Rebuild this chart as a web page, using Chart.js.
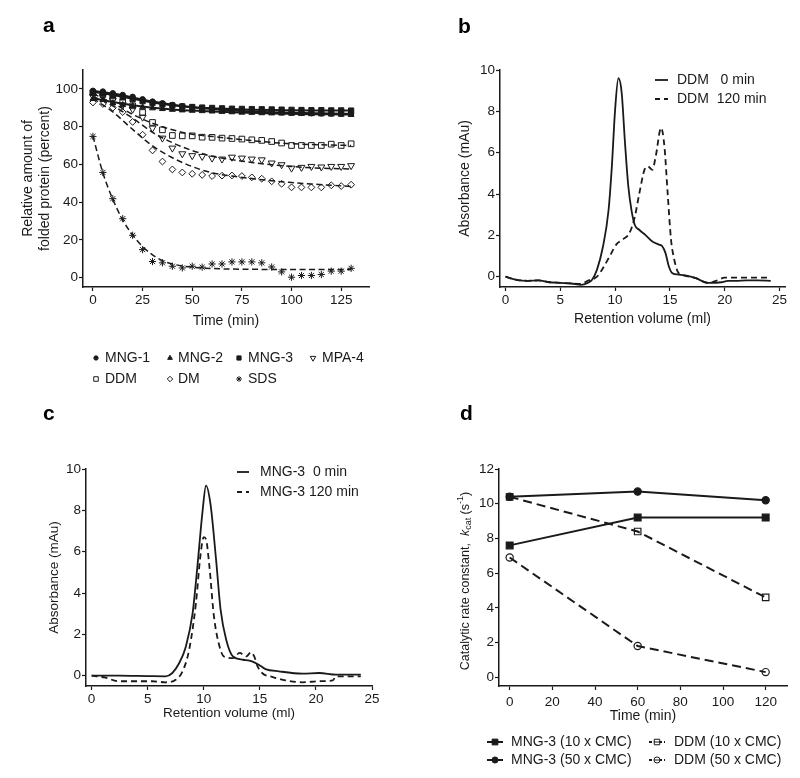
<!DOCTYPE html>
<html><head><meta charset="utf-8">
<script src="https://cdn.jsdelivr.net/npm/chart.js@4.4.1/dist/chart.umd.min.js"></script>
<style>
html,body{margin:0;padding:0;background:#fff;}
#wrap{position:relative;width:800px;height:778px;overflow:hidden;background:#fff;}
#wrap canvas{position:absolute;}
</style></head><body><div id="wrap">
<canvas id="ca" width="400" height="390" style="left:0px;top:0px"></canvas>
<canvas id="cb" width="400" height="390" style="left:400px;top:0px"></canvas>
<canvas id="cc" width="400" height="388" style="left:0px;top:390px"></canvas>
<canvas id="cd" width="400" height="388" style="left:400px;top:390px"></canvas>
</div>
<script>
// ---------- Panel a data ----------
const timeA = [0,5,10,15,20,25,30,35,40,45,50,55,60,65,70,75,80,85,90,95,100,105,110,115,120,125,130];
const mng1 = [99,98.6,97.7,96.8,95.8,94.5,93.3,92.4,91.5,90.8,90.3,89.8,89.4,89,88.7,88.4,88.2,88,87.8,87.6,87.4,87.3,87.1,87,86.9,86.8,86.8];
const mng2 = [94.7,94.2,92.4,91.5,91,90.3,89.8,89.4,89,88.7,88.5,88.3,88.1,87.9,87.7,87.5,87.4,87.2,87.1,87,86.9,86.8,86.7,86.6,86.5,86.4,86.3];
const mng3 = [98,97.5,96.5,95.5,94.5,93.5,92.5,91.8,91.2,90.7,90.4,90.1,89.9,89.7,89.5,89.4,89.3,89.2,89.1,89,88.9,88.8,88.7,88.7,88.6,88.6,88.5];
const mpa4 = [96,96,94,91.5,89.2,85,79.2,73.9,68.6,65.6,64.6,64.2,63.3,62.8,63.8,63.3,62.8,62.4,60.7,59.8,58,58.4,58.9,58.6,58.9,58.9,59.3];
const ddm  = [98,97,95.5,93,91,87.5,82.2,78.3,75.3,75.1,75.1,74.4,74.3,73.9,73.7,73.4,73,72.7,72.1,71.3,70,70,70,70,70.7,70,70.9];
const dm   = [92.8,92,90,87.7,82.5,75.7,67.4,61.5,57.3,55.7,55,54.4,53.8,54,54.1,53.8,53.1,52.4,51,49.7,47.8,47.8,47.8,47.8,48.9,48.5,49.2];
const sds  = [74.8,55.7,41.8,31.2,22.4,14.8,8.5,7.8,6,5.1,6,5.5,7.2,7.2,8.3,8.3,8.3,7.8,5.6,3,0.2,1.1,1.1,1.6,3.4,3.4,4.9];
const fitTimeA = [0,10,20,30,40,50,60,70,80,90,100,110,120,130];
const fitMng1 = [99,97.5,95.5,93.3,91.6,90.3,89.3,88.6,88,87.6,87.3,87.1,86.9,86.8];
const fitMng2 = [95,93,91.3,90,89.1,88.5,88,87.6,87.3,87,86.8,86.6,86.5,86.4];
const fitMng3 = [98.5,96.8,94.8,92.8,91.3,90.3,89.7,89.3,89,88.8,88.7,88.6,88.5,88.5];
const fitDdm  = [97.5,92.5,86.5,81.8,78.3,76,74.8,73.6,72.6,71.6,70.9,70.5,70.2,70];
const fitMpa4 = [96,91,84.5,77,71.5,67.3,64.3,62.5,61,59.8,58.9,58.2,57.8,57.5];
const fitDm   = [95,87.8,78.5,69.8,63.5,58.8,55.5,53.8,52.5,51.3,50.4,49.6,48.9,48.3];
const fitTimeSds = [0,5,10,15,20,25,30,35,40,50,60,70,80,90,100,110,120,130];
const fitSds  = [75,55.5,41.5,30.5,22.5,16.5,12,9,7.2,5.5,4.8,4.5,4.4,4.3,4.3,4.3,4.3,4.3];
const ticksAX = [0,25,50,75,100,125];
const ticksAY = [0,20,40,60,80,100];
const namesA = ['MNG-1','MNG-2','MNG-3','MPA-4','DDM','DM','SDS'];

// ---------- Panel b data ----------
const volB0  = [0,1,2,3,4,5,6,6.9,7.5,7.9,8.35,8.9,9.4,9.7,10.0,10.3,10.6,10.9,11.2,11.5,11.8,12.2,12.8,13.4,14.0,14.3,14.6,14.9,15.2,15.8,16.5,17.3,18.5,19.7,20.3,21,22,23,24.2];
const absB0  = [0,-0.15,-0.2,-0.18,-0.27,-0.3,-0.33,-0.4,-0.3,-0.15,0.34,1.47,3.2,5.3,8.07,9.6,8.9,6.5,4.4,3.2,2.5,2.27,2.0,1.7,1.55,1.47,1.14,0.5,0.18,0.1,0.05,-0.06,-0.3,-0.27,-0.2,-0.2,-0.18,-0.18,-0.2];
const volB120 = [0,1,2,3,4,5,6,6.9,7.5,8.35,8.9,9.5,10.1,10.7,11.3,11.8,12.2,12.7,13.0,13.4,13.7,14.2,14.5,14.8,15.1,15.4,15.7,16.1,17.3,18.5,19.2,20,21,22,23,24.2];
const absB120 = [0,-0.15,-0.2,-0.18,-0.27,-0.3,-0.33,-0.35,-0.2,0,0.42,0.98,1.55,1.8,2.1,2.9,4.0,5.2,5.33,5.17,5.8,7.2,6.3,4.0,1.8,0.82,0.26,0.1,-0.06,-0.3,-0.2,-0.05,-0.05,-0.05,-0.05,-0.05];
const ticksBX = [0,5,10,15,20,25];
const ticksBY = [0,2,4,6,8,10];
const namesB = ['DDM   0 min','DDM  120 min'];

// ---------- Panel c data ----------
const volC0  = [0,2.4,5,6.6,7.2,7.8,8.4,9.0,9.4,9.9,10.2,10.6,11.1,11.5,12.0,12.6,13.5,14.3,14.9,15.5,16.7,18.8,20.3,21.8,24];
const absC0  = [0,0,-0.02,-0.03,0.13,0.6,1.4,3.0,5.1,8.0,9.2,8.3,5.6,3.2,1.74,0.93,0.77,0.69,0.53,0.32,0.21,0.1,0.13,0.05,0.05];
const volC120 = [0,1.25,2.4,5.4,6.6,7.5,8.1,8.7,9.3,9.7,10.0,10.2,10.5,10.9,11.4,11.8,12.6,13.2,13.8,14.2,14.5,14.8,15.2,16.1,17.3,18.8,20.3,21.5,21.8,24];
const absC120 = [0,-0.1,-0.27,-0.27,-0.32,-0.2,0.2,1.26,3.5,5.8,6.7,6.6,5.3,2.9,1.42,0.93,0.85,1.1,0.93,1.13,0.93,0.45,0.13,-0.06,-0.23,-0.32,-0.27,-0.23,-0.03,-0.03];
const ticksCX = [0,5,10,15,20,25];
const ticksCY = [0,2,4,6,8,10];
const namesC = ['MNG-3  0 min','MNG-3 120 min'];

// ---------- Panel d data ----------
const timeD = [0,60,120];
const mng3x10 = [7.6,9.2,9.2];
const mng3x50 = [10.4,10.7,10.2];
const ddmx10 = [10.4,8.4,4.6];
const ddmx50 = [6.9,1.8,0.3];
const ticksDX = [0,20,40,60,80,100,120];
const ticksDY = [0,2,4,6,8,10,12];
const namesD = ['MNG-3 (10 x CMC)','MNG-3 (50 x CMC)','DDM (10 x CMC)','DDM (50 x CMC)'];

// ---------- helpers ----------
const FONT = "'Liberation Sans', Arial, Helvetica, sans-serif";
const INK = '#1a1a1a';
const pts = (xs, ys) => xs.map((x, i) => ({x: x, y: ys[i]}));

function axis(o) {
  return {
    type: 'linear', min: o.min, max: o.max,
    border: {display: true, color: INK, width: 1.5},
    grid: {display: true, drawOnChartArea: false, drawTicks: true, tickLength: 4, tickColor: INK, tickWidth: 1.2},
    ticks: {color: INK, font: {family: FONT, size: 13.5}, padding: o.tickPad, maxRotation: 0, autoSkip: false},
    title: o.title ? {display: true, text: o.title, color: INK, font: {family: FONT, size: o.titleSize || 14}, padding: o.titlePad} : {display: false},
    afterBuildTicks: s => { s.ticks = o.ticks.map(v => ({value: v})); },
    afterFit: s => { if (o.w != null) s.width = o.w; if (o.h != null) s.height = o.h; }
  };
}

function drawMarker(ctx, style, x, y, r, filled, rot) {
  ctx.save();
  ctx.translate(x, y);
  if (rot) ctx.rotate(rot * Math.PI / 180);
  ctx.beginPath();
  if (style === 'circle') ctx.arc(0, 0, r, 0, Math.PI * 2);
  else if (style === 'rect') { const s = r * Math.SQRT1_2; ctx.rect(-s, -s, 2 * s, 2 * s); }
  else if (style === 'triangle') { ctx.moveTo(0, -r); ctx.lineTo(r * 0.866, r * 0.5); ctx.lineTo(-r * 0.866, r * 0.5); ctx.closePath(); }
  else if (style === 'rectRot') { ctx.moveTo(0, -r); ctx.lineTo(r, 0); ctx.lineTo(0, r); ctx.lineTo(-r, 0); ctx.closePath(); }
  else if (style === 'star') {
    for (let k = 0; k < 4; k++) { const a = k * Math.PI / 4; ctx.moveTo(-r * Math.cos(a), -r * Math.sin(a)); ctx.lineTo(r * Math.cos(a), r * Math.sin(a)); }
  }
  ctx.lineWidth = 1; ctx.strokeStyle = INK;
  if (filled === true && style !== 'star') { ctx.fillStyle = INK; ctx.fill(); }
  else if (filled === 'white') { ctx.fillStyle = '#fff'; ctx.fill(); }
  ctx.stroke();
  ctx.restore();
}

function letter(ch, x, y) {
  return {id: 'letter_' + ch, afterDraw(chart) {
    const ctx = chart.ctx; ctx.save();
    ctx.font = 'bold 21px ' + FONT; ctx.fillStyle = '#000'; ctx.textBaseline = 'alphabetic'; ctx.textAlign = 'left';
    ctx.fillText(ch, x, y); ctx.restore();
  }};
}

Chart.defaults.font.family = FONT;
Chart.defaults.color = INK;

// ---------- Panel a ----------
const markA = [
  {data: mng1, style: 'circle', r: 2.7, fill: true, rot: 0},
  {data: mng2, style: 'triangle', r: 3.4, fill: true, rot: 0},
  {data: mng3, style: 'rect', r: 3.7, fill: true, rot: 0},
  {data: mpa4, style: 'triangle', r: 4, fill: false, rot: 180},
  {data: ddm, style: 'rect', r: 4, fill: false, rot: 0},
  {data: dm, style: 'rectRot', r: 3.4, fill: false, rot: 0},
  {data: sds, style: 'star', r: 3.6, fill: false, rot: 0}
];
const dsA = [];
markA.forEach((m, i) => dsA.push({
  type: 'scatter', label: namesA[i], data: pts(timeA, m.data), showLine: false, order: 1,
  pointStyle: m.style, pointRadius: m.r, pointRotation: m.rot, pointBorderWidth: 1,
  pointBorderColor: INK, pointBackgroundColor: m.fill ? INK : 'rgba(0,0,0,0)'
}));
[[fitMng1, false], [fitMng2, false], [fitMng3, false], [fitDdm, true], [fitMpa4, true], [fitDm, true]].forEach(([f, dashed]) => dsA.push({
  type: 'line', label: '_fit', data: pts(fitTimeA, f), order: 2, pointRadius: 0, borderColor: INK,
  borderWidth: dashed ? 1.5 : 2, borderDash: dashed ? [6, 3.5] : [], cubicInterpolationMode: 'monotone', fill: false
}));
dsA.push({type: 'line', label: '_fit', data: pts(fitTimeSds, fitSds), order: 2, pointRadius: 0, borderColor: INK,
  borderWidth: 1.5, borderDash: [6, 3.5], cubicInterpolationMode: 'monotone', fill: false});

const legendA = {id: 'legendA', afterDraw(chart) {
  const ctx = chart.ctx; ctx.save();
  const cols = [[96, 105], [170, 178], [239, 248], [313, 322]];
  const rows = [358, 379];
  markA.forEach((m, i) => {
    const c = cols[i % 4], y = rows[Math.floor(i / 4)];
    drawMarker(ctx, m.style, c[0], y, m.r * 0.8, m.fill, m.rot);
    ctx.font = '14px ' + FONT; ctx.fillStyle = INK; ctx.textBaseline = 'middle'; ctx.textAlign = 'left';
    ctx.fillText(namesA[i], c[1], y + 0.5);
  });
  ctx.restore();
}};

new Chart(document.getElementById('ca'), {
  type: 'scatter',
  data: {datasets: dsA},
  options: {
    responsive: false, animation: false, events: [],
    layout: {padding: {left: 0, top: 70, right: 31, bottom: 60}, autoPadding: false},
    plugins: {legend: {display: false}, tooltip: {enabled: false}},
    scales: {
      x: axis({min: -5, max: 139, ticks: ticksAX, tickPad: 1, h: 43, title: 'Time (min)', titlePad: {top: 0, bottom: 0}}),
      y: axis({min: -5, max: 110, ticks: ticksAY, tickPad: 1, w: 83, title: ['Relative amount of', 'folded protein (percent)'], titlePad: {top: 19.5, bottom: 0}})
    }
  },
  plugins: [legendA, letter('a', 43, 32)]
});

// ---------- Panel b & c (chromatograms) ----------
function lineLegend(id, names, x0, x1, xt, rows) {
  return {id: id, afterDraw(chart) {
    const ctx = chart.ctx; ctx.save();
    ctx.strokeStyle = INK; ctx.lineWidth = 1.8;
    rows.forEach((y, i) => {
      ctx.setLineDash(i === 1 ? [5, 4] : []);
      ctx.beginPath(); ctx.moveTo(x0, y); ctx.lineTo(x1, y); ctx.stroke();
      ctx.setLineDash([]);
      ctx.font = '14px ' + FONT; ctx.fillStyle = INK; ctx.textBaseline = 'middle'; ctx.textAlign = 'left';
      ctx.fillText(names[i], xt, y + 0.5);
    });
    ctx.restore();
  }};
}

function chromChart(id, cfg) {
  return new Chart(document.getElementById(id), {
    type: 'line',
    data: {datasets: [
      {label: cfg.names[0], data: pts(cfg.v0, cfg.a0), borderColor: INK, borderWidth: 1.8, pointRadius: 0, cubicInterpolationMode: 'monotone', fill: false},
      {label: cfg.names[1], data: pts(cfg.v1, cfg.a1), borderColor: INK, borderWidth: 1.8, borderDash: [6, 4], pointRadius: 0, cubicInterpolationMode: 'monotone', fill: false}
    ]},
    options: {
      responsive: false, animation: false, events: [],
      layout: {padding: cfg.pad, autoPadding: false},
      plugins: {legend: {display: false}, tooltip: {enabled: false}},
      scales: {
        x: axis({min: -0.5, max: cfg.xmax, ticks: cfg.tx, tickPad: 1, h: cfg.h, title: 'Retention volume (ml)', titleSize: cfg.ts, titlePad: {top: 0, bottom: 0}}),
        y: axis({min: -0.5, max: 10, ticks: cfg.ty, tickPad: 1, w: cfg.w, title: 'Absorbance (mAu)', titleSize: cfg.ts, titlePad: {top: cfg.ytp, bottom: 0}})
      }
    },
    plugins: cfg.plugins
  });
}

chromChart('cb', {names: namesB, v0: volB0, a0: absB0, v1: volB120, a1: absB120, tx: ticksBX, ty: ticksBY,
  xmax: 25.5, pad: {left: 0, top: 70, right: 15, bottom: 62}, h: 41, w: 100, ts: 14, ytp: 56.5,
  plugins: [lineLegend('legB', namesB, 255, 268, 277, [80, 99]), letter('b', 58, 33)]});

chromChart('cc', {names: namesC, v0: volC0, a0: absC0, v1: volC120, a1: absC120, tx: ticksCX, ty: ticksCY,
  xmax: 25, pad: {left: 0, top: 79, right: 28, bottom: 57}, h: 35, w: 86, ts: 13.5, ytp: 46,
  plugins: [lineLegend('legC', namesC, 237, 249, 260, [82, 102]), letter('c', 43, 30)]});

// ---------- Panel d ----------
const markD = [
  {data: mng3x50, style: 'circle', r: 3.6, fill: true, dashed: false},
  {data: mng3x10, style: 'rect', r: 4.8, fill: true, dashed: false},
  {data: ddmx10, style: 'rect', r: 4.6, fill: false, dashed: true},
  {data: ddmx50, style: 'circle', r: 3.6, fill: false, dashed: true}
];
const labelD = [namesD[1], namesD[0], namesD[2], namesD[3]];
const dsD = markD.map((m, i) => ({
  type: 'line', label: labelD[i], data: pts(timeD, m.data), borderColor: INK, borderWidth: 2,
  borderDash: m.dashed ? [9, 5] : [], tension: 0, fill: false,
  pointStyle: m.style, pointRadius: m.r, pointBorderWidth: 1.2, pointBorderColor: INK,
  pointBackgroundColor: m.fill ? INK : 'rgba(255,255,255,0)'
}));

const legendD = {id: 'legendD', afterDraw(chart) {
  const ctx = chart.ctx; ctx.save();
  const items = [
    {m: markD[1], x: 95, xt: 111, y: 352, name: namesD[0]},
    {m: markD[0], x: 95, xt: 111, y: 370, name: namesD[1]},
    {m: markD[2], x: 257, xt: 274, y: 352, name: namesD[2]},
    {m: markD[3], x: 257, xt: 274, y: 370, name: namesD[3]}
  ];
  items.forEach(it => {
    ctx.strokeStyle = INK; ctx.lineWidth = 2;
    ctx.setLineDash(it.m.dashed ? [3, 2] : []);
    ctx.beginPath(); ctx.moveTo(it.x - 8, it.y); ctx.lineTo(it.x + 8, it.y); ctx.stroke();
    ctx.setLineDash([]);
    drawMarker(ctx, it.m.style, it.x, it.y, it.m.r * 0.85, it.m.fill ? true : 'white', 0);
    if (it.m.dashed) { ctx.beginPath(); ctx.moveTo(it.x - 3, it.y); ctx.lineTo(it.x + 3, it.y); ctx.lineWidth = 1; ctx.stroke(); }
    ctx.font = '14px ' + FONT; ctx.fillStyle = INK; ctx.textBaseline = 'middle'; ctx.textAlign = 'left';
    ctx.fillText(it.name, it.xt, it.y + 0.5);
  });
  ctx.restore();
}};

const yTitleD = {id: 'yTitleD', afterDraw(chart) {
  const ctx = chart.ctx; ctx.save();
  ctx.translate(66, 191); ctx.rotate(-Math.PI / 2);
  const big = '12.5px ' + FONT, small = '9px ' + FONT;
  const parts = [
    {t: 'Catalytic rate constant,  ', f: big, dy: 0},
    {t: 'k', f: 'italic ' + big, dy: 0},
    {t: 'cat', f: small, dy: 3},
    {t: ' (s', f: big, dy: 0},
    {t: '-1', f: small, dy: -5},
    {t: ')', f: big, dy: 0}
  ];
  let total = 0;
  parts.forEach(p => { ctx.font = p.f; p.w = ctx.measureText(p.t).width; total += p.w; });
  let x = -total / 2;
  ctx.fillStyle = INK; ctx.textBaseline = 'middle'; ctx.textAlign = 'left';
  parts.forEach(p => { ctx.font = p.f; ctx.fillText(p.t, x, p.dy); x += p.w; });
  ctx.restore();
}};

new Chart(document.getElementById('cd'), {
  type: 'line',
  data: {datasets: dsD},
  options: {
    responsive: false, animation: false, events: [],
    layout: {padding: {left: 0, top: 79, right: 13, bottom: 53}, autoPadding: false},
    plugins: {legend: {display: false}, tooltip: {enabled: false}},
    scales: {
      x: axis({min: -5, max: 130, ticks: ticksDX, tickPad: 4, h: 39, title: 'Time (min)', titlePad: {top: 0, bottom: 0}}),
      y: axis({min: -0.5, max: 12, ticks: ticksDY, tickPad: 1, w: 99})
    }
  },
  plugins: [legendD, yTitleD, letter('d', 60, 30)]
});
</script>
</body></html>
